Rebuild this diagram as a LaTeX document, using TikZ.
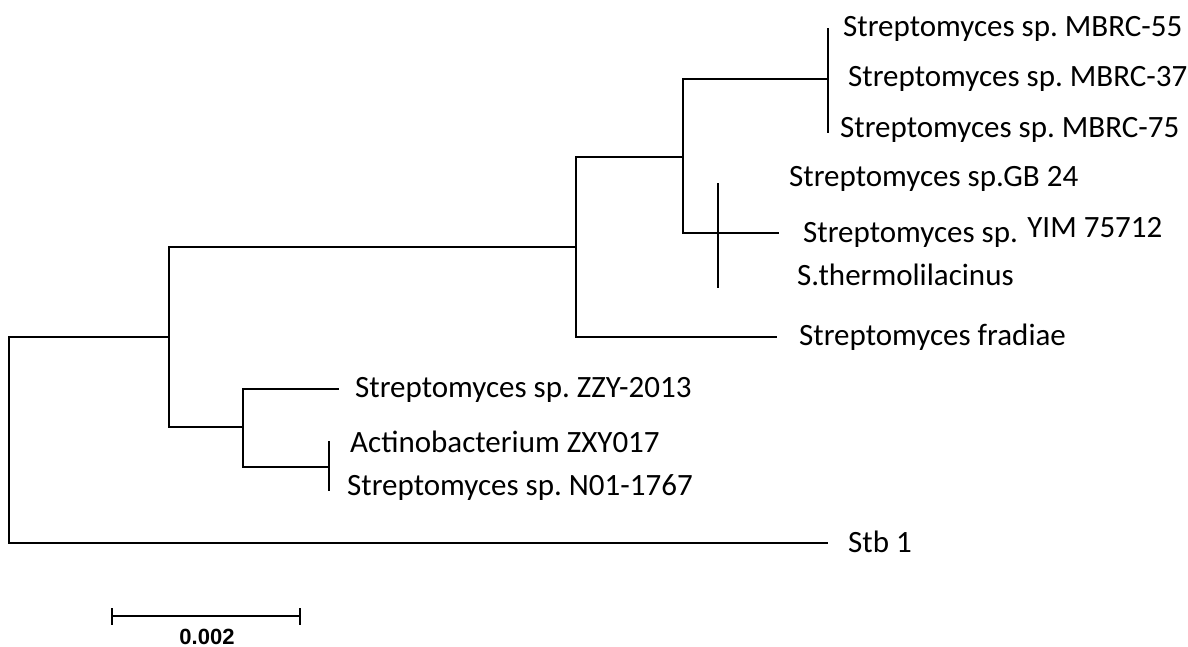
\documentclass[tikz,border=0pt]{standalone}
\usepackage{fontspec}
\setmainfont{Carlito}
\newfontfamily\scalefont{Liberation Sans}
\usetikzlibrary{positioning}
\frenchspacing

\begin{document}
\begin{tikzpicture}[x=1pt,y=-1pt,
		branch/.style={line width=2.4pt, line cap=rect},
		taxon/.style={anchor=base west, inner sep=0pt, font=\fontsize{31}{31}\selectfont},
		barlabel/.style={inner sep=0pt, font=\scalefont\bfseries\fontsize{22}{22}\selectfont}]
			\useasboundingbox (0,0) rectangle (1188,647);
			
			% internal nodes
			\coordinate (nR) at (9,440);
			\coordinate (nA) at (169,337);
			\coordinate (nB) at (576,247);
			\coordinate (nC) at (683,157);
			\coordinate (nD) at (243,427);
			
			% tips
			\coordinate (tMBRC) at (828,79);
			\coordinate (tGB) at (778,233);
			\coordinate (tFra) at (776,337);
			\coordinate (tZZY) at (338,389);
			\coordinate (tZXY) at (329,467);
			\coordinate (tStb) at (827,543);
			
			\draw[branch] (nR) |- (nA);
			\draw[branch] (nR) |- (tStb);
			\draw[branch] (nA) |- (nB);
			\draw[branch] (nA) |- (nD);
			\draw[branch] (nB) |- (nC);
			\draw[branch] (nB) |- (tFra);
			\draw[branch] (nC) |- (tMBRC);
			\draw[branch] (nC) |- (tGB);
			\draw[branch] (nD) |- (tZZY);
			\draw[branch] (nD) |- (tZXY);
			
			% polytomies
			\coordinate (mTop) at (828,29);
			\coordinate (mBot) at (828,132);
			\draw[branch] (mTop) -- (mBot);
			\coordinate (gTop) at (718,184);
			\coordinate (gBot) at (718,287);
			\draw[branch] (gTop) -- (gBot);
			\coordinate (zTop) at (329,442);
			\coordinate (zBot) at (329,490);
			\draw[branch] (zTop) -- (zBot);
			
			% taxa
			\node[taxon] (lM55) at (843,37) {Streptomyces sp. MBRC-55};
			\node[taxon] (lM37) at (848,87) {Streptomyces sp. MBRC-37};
			\node[taxon] (lM75) at (840,138) {Streptomyces sp. MBRC-75};
			\node[taxon] (lGB) at (789,187) {Streptomyces sp.GB 24};
			\node[taxon] (lYIMsp) at (803,242) {Streptomyces sp.};
			\node[taxon, right=9pt of lYIMsp.base east, anchor=base west, yshift=5pt] (lYIM) {YIM 75712};
			\node[taxon] (lThe) at (797,285) {S.thermolilacinus};
			\node[taxon] (lFra) at (799,345) {Streptomyces fradiae};
			\node[taxon] (lZZY) at (355,397) {Streptomyces sp. ZZY-2013};
			\node[taxon] (lZXY) at (350,452) {Actinobacterium ZXY017};
			\node[taxon] (lN01) at (347,495) {Streptomyces sp. N01-1767};
			\node[taxon] (lStb) at (848,552) {Stb 1};
			
			% scale bar
			\coordinate (sL) at (112,616);
			\coordinate (sR) at (300,616);
			\draw[branch] (sL) -- (sR);
			\draw[branch] ([yshift=-8]sL) -- ([yshift=7]sL);
			\draw[branch] ([yshift=-8]sR) -- ([yshift=7]sR);
			\node[barlabel] (sLab) at (207,637) {0.002};
			\end{tikzpicture}
\end{document}
